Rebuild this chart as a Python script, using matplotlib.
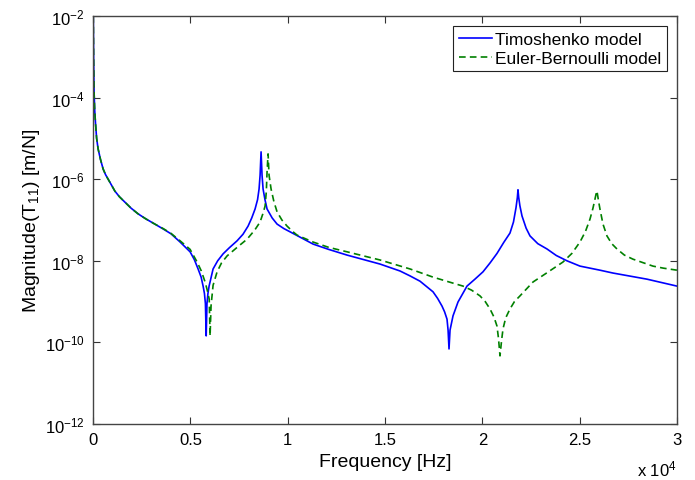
import numpy as np
import matplotlib
matplotlib.use("Agg")
import matplotlib.pyplot as plt

plt.rcParams['font.family'] = ['Liberation Sans', 'DejaVu Sans']
plt.rcParams['mathtext.fontset'] = 'custom'
plt.rcParams['mathtext.rm'] = 'Liberation Sans'
plt.rcParams['mathtext.it'] = 'Liberation Sans:italic'
plt.rcParams['axes.unicode_minus'] = False

# Timoshenko model (frequency in Hz, log10 of magnitude in m/N)
tim_freq = [8, 25, 51, 80, 118, 180, 257, 380, 514, 640, 771, 950, 1115, 1350,
            1628, 1950, 2312, 2700, 3170, 3600, 4007, 4469, 4983, 5200, 5394,
            5550, 5651, 5720, 5770, 5810, 5850, 5900, 5959, 6164, 6400, 6678,
            7000, 7397, 7700, 7962, 8150, 8322, 8450, 8527, 8580, 8630, 8680,
            8733, 8830, 8938, 9200, 9452, 9800, 10120, 10633, 11301, 12100,
            13048, 14743, 15771, 16284, 16798, 17466, 17700, 17928, 18060,
            18185, 18240, 18288, 18340, 18493, 18750, 19212, 19620, 20034,
            20400, 20753, 21100, 21421, 21600, 21730, 21800, 21832, 21870,
            21930, 22038, 22250, 22449, 22850, 23322, 23800, 24349, 25017,
            26044, 26712, 28459, 30000]
tim_log = [-2.0, -3.0, -3.9, -4.3, -4.6, -5.0, -5.26, -5.52, -5.75, -5.89,
           -6.0, -6.15, -6.29, -6.43, -6.56, -6.71, -6.85, -6.97, -7.10, -7.22,
           -7.34, -7.54, -7.78, -7.97, -8.20, -8.40, -8.62, -8.80, -9.05,
           -9.84, -9.05, -8.8, -8.62, -8.20, -8.0, -7.83, -7.68, -7.51, -7.35,
           -7.15, -6.95, -6.73, -6.5, -6.24, -5.9, -5.33, -5.9, -6.24, -6.5,
           -6.73, -6.95, -7.10, -7.21, -7.29, -7.42, -7.59, -7.72, -7.86,
           -8.08, -8.25, -8.37, -8.50, -8.76, -8.92, -9.11, -9.25, -9.43,
           -9.7, -10.16, -9.7, -9.35, -9.01, -8.62, -8.45, -8.27, -8.05,
           -7.82, -7.55, -7.32, -7.05, -6.7, -6.45, -6.26, -6.45, -6.65,
           -6.9, -7.2, -7.39, -7.58, -7.71, -7.87, -8.00, -8.13, -8.23, -8.30,
           -8.45, -8.62]

# Euler-Bernoulli model
eb_freq = [8, 25, 51, 80, 118, 180, 257, 380, 514, 640, 771, 950, 1115, 1350,
           1628, 1950, 2312, 2700, 3170, 3600, 4007, 4469, 4983, 5343, 5560,
           5754, 5880, 5965, 6010, 6060, 6164, 6370, 6600, 6884, 7400, 7911,
           8300, 8579, 8720, 8836, 8900, 8938, 8990, 9040, 9144, 9290, 9452,
           9700, 9966, 10250, 10479, 11301, 12100, 13048, 14743, 16284, 17466,
           18300, 19007, 19450, 19880, 20150, 20394, 20600, 20753, 20830,
           20908, 20990, 21062, 21200, 21421, 21650, 21935, 22603, 23300,
           24144, 24600, 25017, 25300, 25531, 25680, 25788, 25850, 25890,
           25960, 26044, 26200, 26404, 26650, 26918, 27300, 27740, 28767,
           29300, 30000]
eb_log = [-2.0, -3.0, -3.9, -4.3, -4.6, -5.0, -5.26, -5.52, -5.75, -5.89,
          -6.0, -6.15, -6.29, -6.43, -6.56, -6.71, -6.85, -6.97, -7.10, -7.21,
          -7.33, -7.51, -7.72, -8.03, -8.25, -8.52, -8.75, -8.94, -9.84, -9.1,
          -8.6, -8.27, -8.05, -7.88, -7.67, -7.47, -7.25, -7.05, -6.85, -6.66,
          -6.3, -5.82, -5.38, -5.9, -6.24, -6.55, -6.80, -7.0, -7.15, -7.28,
          -7.37, -7.54, -7.67, -7.78, -7.98, -8.20, -8.40, -8.52, -8.62,
          -8.72, -8.86, -9.0, -9.18, -9.38, -9.60, -9.9, -10.33, -9.95, -9.67,
          -9.4, -9.18, -9.0, -8.86, -8.52, -8.3, -8.03, -7.82, -7.54, -7.28,
          -6.98, -6.72, -6.49, -6.35, -6.29, -6.5, -6.73, -7.1, -7.39, -7.58,
          -7.71, -7.86, -7.96, -8.13, -8.18, -8.23]

xtick_vals = [0, 0.5, 1, 1.5, 2, 2.5, 3]
xtick_labels = ['0', '0.5', '1', '1.5', '2', '2.5', '3']
ytick_vals = [1e-12, 1e-10, 1e-8, 1e-6, 1e-4, 1e-2]

fig = plt.figure(figsize=(6.95, 4.81), dpi=100)
ax = fig.add_axes([0.134, 0.1164, 0.840, 0.8483])

ax.plot(np.array(tim_freq) / 1e4, 10.0 ** np.array(tim_log), color='#0000ff',
        lw=1.2, label='Timoshenko model')
ax.plot(np.array(eb_freq) / 1e4, 10.0 ** np.array(eb_log), color='#008000',
        lw=1.2, ls='--', dashes=(4, 2.5), label='Euler-Bernoulli model')

ax.set_yscale('log')
ax.set_xlim(0, 3)
ax.set_ylim(1e-12, 1e-2)
ax.set_xticks(xtick_vals)
ax.set_xticklabels(xtick_labels)
ax.set_yticks(ytick_vals)
ax.yaxis.set_minor_locator(matplotlib.ticker.NullLocator())
ax.tick_params(direction='in', length=5, width=0.8, top=True, right=True,
               labelsize=12, pad=6, color='#333333')
for s in ax.spines.values():
    s.set_color('#444444')
    s.set_linewidth(1.0)

ax.set_xlabel('Frequency [Hz]', fontsize=14, labelpad=4)
ax.set_ylabel('Magnitude(T$_{11}$) [m/N]', fontsize=14, labelpad=2)
ax.text(1.0, -0.085, 'x 10$^4$', transform=ax.transAxes, ha='right',
        va='top', fontsize=12)

leg = ax.legend(loc='upper right', fontsize=12.5, handlelength=1.9,
                handletextpad=0.2, borderaxespad=0.6, fancybox=False,
                framealpha=1, borderpad=0.3, labelspacing=0.25)
leg.get_frame().set_edgecolor('#222222')
leg.get_frame().set_linewidth(0.8)

fig.savefig('out.png', dpi=100)
